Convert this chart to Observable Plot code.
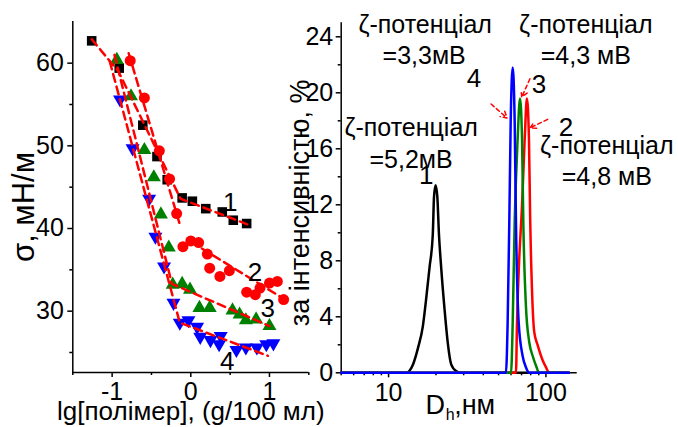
<!DOCTYPE html>
<html><head><meta charset="utf-8">
<script src="https://cdn.jsdelivr.net/npm/d3@7"></script>
<script src="https://cdn.jsdelivr.net/npm/@observablehq/plot@0.6"></script>
<style>
html,body{margin:0;padding:0;background:#fff;}
#chart{position:relative;width:678px;height:427px;overflow:hidden;}
#left{position:absolute;left:0;top:0;width:330px;height:427px;}
#right{position:absolute;left:270px;top:0;width:408px;height:427px;}
</style></head><body>
<div id="chart"><div id="left"></div><div id="right"></div></div>
<script>
const FONT = '"Liberation Sans", Arial, sans-serif';

// ---- Left panel: surface tension vs lg[polymer] ----
const series1 = [[-1.26,62.7],[-0.91,59.4],[-0.61,52.5],[-0.43,48.7],[-0.30,45.9],[-0.11,43.7],[0.02,43.3],[0.19,42.4],[0.40,42.0],[0.54,41.0],[0.71,40.6]];
const series2 = [[-0.77,60.3],[-0.59,55.8],[-0.40,49.4],[-0.27,46.0],[-0.18,41.8],[-0.10,37.8],[0.0,38.5],[0.10,38.3],[0.21,36.9],[0.24,35.2],[0.37,34.2],[0.49,34.9],[0.71,32.3],[0.82,32.0],[0.88,32.8],[1.0,33.4],[1.10,33.6],[1.18,31.4]];
const series3 = [[-0.94,60.4],[-0.76,56.0],[-0.59,49.5],[-0.47,46.2],[-0.38,41.7],[-0.28,37.7],[-0.23,33.2],[-0.11,33.3],[-0.01,32.6],[0.11,30.4],[0.24,30.4],[0.53,30.1],[0.62,29.6],[0.70,28.9],[0.83,29.0],[1.0,28.2]];
const series4 = [[-0.90,55.6],[-0.74,49.7],[-0.53,43.6],[-0.45,39.0],[-0.34,35.4],[-0.22,31.0],[-0.14,28.6],[-0.03,28.9],[0.08,28.1],[0.12,26.9],[0.25,26.5],[0.36,26.0],[0.38,27.0],[0.58,25.3],[0.70,25.6],[0.84,25.6],[0.96,26.0],[1.05,26.1]];
// dashed fit segments
const fit1 = [[-1.26,62.9],[-0.92,59.0],[-0.13,43.6],[0.72,40.5]];
const fit2a = [[-0.79,61.2],[-0.13,40.2]];
const fit2b = [[0.0,38.4],[1.18,31.5]];
const fit3 = [[-0.97,61.0],[-0.24,33.3],[1.0,28.2]];
const fit4 = [[-1.03,60.2],[-0.14,28.6],[0.98,24.6]];
const leftXDomain = [-1.5, 1.5];
const leftYDomain = [22.58, 65.04];
const leftXTicks = [-1, 0, 1];
const leftXMinor = [-1.5, -0.5, 0.5, 1.5];
const leftYTicks = [30, 40, 50, 60];
const leftYMinor = [25, 35, 45, 55];
const leftXLabel = "lg[полімер], (g/100 мл)";
const leftYLabel = "σ, мН/м";
const seriesNames = ["1", "2", "3", "4"];

// ---- Right panel: size distribution ----
const curve1 = [[5,0],[12.9,0],[14.3,0.6],[15.4,1.8],[16.5,3.3],[17.3,5.2],[18.2,7.5],[19.1,9.9],[19.45,12.6],[19.9,13.4],[20.4,12.6],[20.9,9.9],[21.6,7.5],[22.7,4.5],[23.8,2.1],[25.0,0.6],[27.0,0.1],[29,0],[140,0]];
const curve2 = [[5,0],[64.5,0],[65.5,3.6],[67.1,7.2],[70.5,12.0],[73.3,16.7],[75.7,19.6],[78.0,16.7],[79.4,11.0],[81.5,6.0],[84.3,2.9],[88.5,2.0],[95.3,0.9],[100,0.4],[105,0],[140,0]];
const curve3 = [[5,0],[60,0],[61.5,3.6],[63.3,10.8],[66.1,16.7],[68.4,19.6],[70.5,16.7],[71.8,10.8],[74.6,4.8],[78.3,2.2],[82.4,1.2],[86.5,0.5],[90.6,0],[140,0]];
const curve4 = [[5,0],[55.7,0],[57.1,3.6],[58.5,10.8],[59.7,17.9],[61.5,21.8],[63.3,17.9],[64.5,10.8],[67.1,3.6],[71.1,1.2],[74.6,0.4],[78.3,0],[140,0]];
const rightXDomain = [5, 158];
const rightYDomain = [0, 25];
const rightXTicks = [10, 100];
const rightXMinor = [5,6,7,8,9,20,30,40,50,60,70,80,90];
const rightYTicks = [0, 4, 8, 12, 16, 20, 24];
const rightYMinor = [2, 6, 10, 14, 18, 22];
const rightYLabel = "за інтенсивністю, %";
const zetaTitle = "ζ-потенціал";
const zetaValues = ["=3,3мВ", "=4,3 мВ", "=5,2мВ", "=4,8 мВ"];
const curveNames = ["1", "2", "3", "4"];

const pts = (arr, extra = {}) => arr.map(([x, y]) => ({x, y, ...extra}));
const styleBase = {background: "transparent", fontFamily: FONT, fontSize: "24px", color: "black", overflow: "visible"};

const fits = [
  ...pts(fit1, {s: "a"}), ...pts(fit2a, {s: "b"}), ...pts(fit2b, {s: "c"}),
  ...pts(fit3, {s: "d"}), ...pts(fit4, {s: "e"})
];

const left = Plot.plot({
  width: 330, height: 427,
  marginLeft: 72.3, marginRight: 21.7, marginTop: 21, marginBottom: 55,
  x: {domain: leftXDomain},
  y: {domain: leftYDomain},
  style: styleBase,
  marks: [
    Plot.axisY({ticks: leftYTicks, tickSize: 5, tickPadding: 4, fontSize: 25, label: null, strokeWidth: 1.5}),
    Plot.axisY({ticks: leftYMinor, tickSize: 3, tickFormat: () => "", label: null, strokeWidth: 1.5}),
    Plot.axisX({ticks: leftXTicks, tickSize: 5, tickPadding: 5, fontSize: 25, tickFormat: d => String(d), label: null, strokeWidth: 1.5}),
    Plot.axisX({ticks: leftXMinor, tickSize: 3, tickFormat: () => "", label: null, strokeWidth: 1.5}),
    Plot.ruleX([leftXDomain[0]], {strokeWidth: 1.5}),
    Plot.ruleY([leftYDomain[0]], {strokeWidth: 1.5}),
    Plot.dot(pts(series1), {x: "x", y: "y", symbol: "square", fill: "black", r: 5.4}),
    Plot.dot(pts(series2), {x: "x", y: "y", symbol: "circle", fill: "#ff0000", r: 5.5}),
    Plot.dot(pts(series3), {x: "x", y: "y", symbol: "triangle", fill: "#008000", r: 5.2}),
    Plot.dot(pts(series4), {x: "x", y: "y", symbol: "triangle", fill: "#0000ff", r: 5.2, rotate: 180}),
    Plot.line(fits, {x: "x", y: "y", z: "s", stroke: "#ff0000", strokeWidth: 2.5, strokeDasharray: "8,5"}),
    Plot.text([seriesNames[0]], {x: 0.50, y: 42.06, text: d => d, fontSize: 26, lineAnchor: "bottom"}),
    Plot.text([seriesNames[1]], {x: 0.816, y: 33.7, text: d => d, fontSize: 26, lineAnchor: "bottom"}),
    Plot.text([seriesNames[2]], {x: 0.977, y: 29.24, text: d => d, fontSize: 26, lineAnchor: "bottom"}),
    Plot.text([seriesNames[3]], {x: 0.464, y: 22.83, text: d => d, fontSize: 26, lineAnchor: "bottom"}),
    Plot.text([leftXLabel], {frameAnchor: "bottom", text: d => d, lineAnchor: "bottom", dy: 47, fontSize: 26}),
    Plot.text([leftYLabel], {frameAnchor: "left", text: d => d, rotate: -90, dx: -49, dy: 10, fontSize: 31, textAnchor: "middle", lineAnchor: "middle"})
  ]
});
document.getElementById("left").appendChild(left);

const right = Plot.plot({
  width: 408, height: 427,
  marginLeft: 70.7, marginRight: 101.3, marginTop: 22.3, marginBottom: 54.7,
  x: {type: "log", domain: rightXDomain},
  y: {domain: rightYDomain},
  style: styleBase,
  marks: [
    Plot.axisY({ticks: rightYTicks, tickSize: 5, tickPadding: 3, fontSize: 25, label: null, strokeWidth: 1.5}),
    Plot.axisY({ticks: rightYMinor, tickSize: 3, tickFormat: () => "", label: null, strokeWidth: 1.5}),
    Plot.axisX({ticks: rightXTicks, tickSize: 5, tickPadding: 5, fontSize: 25, tickFormat: d => String(d), label: null, strokeWidth: 1.5}),
    Plot.axisX({ticks: rightXMinor, tickSize: 3, tickFormat: () => "", label: null, strokeWidth: 1.5}),
    Plot.ruleX([rightXDomain[0]], {strokeWidth: 1.5}),
    Plot.ruleY([rightYDomain[0]], {strokeWidth: 1.5}),
    Plot.line(pts(curve1), {x: "x", y: "y", stroke: "black", strokeWidth: 2.5, curve: "monotone-x"}),
    Plot.line(pts(curve2), {x: "x", y: "y", stroke: "#ff0000", strokeWidth: 2.5, curve: "monotone-x"}),
    Plot.line(pts(curve3), {x: "x", y: "y", stroke: "#008000", strokeWidth: 2.5, curve: "monotone-x"}),
    Plot.line(pts(curve4), {x: "x", y: "y", stroke: "#0000ff", strokeWidth: 2.5, curve: "monotone-x"}),
    Plot.arrow([{x1: 44.8, y1: 19.2, x2: 56.6, y2: 18.2}, {x1: 79.1, y1: 21.0, x2: 70.2, y2: 19.7}, {x1: 102.6, y1: 18.1, x2: 79.4, y2: 17.5}],
      {x1: "x1", y1: "y1", x2: "x2", y2: "y2", stroke: "#ff0000", strokeWidth: 1.5, strokeDasharray: "4,3", headLength: 8}),
    Plot.text([zetaTitle], {x: 17.09, y: 24.24, text: d => d, fontSize: 25, lineAnchor: "bottom"}),
    Plot.text([zetaValues[0]], {x: 16.84, y: 22.09, text: d => d, fontSize: 25, lineAnchor: "bottom"}),
    Plot.text([zetaTitle], {x: 179.3, y: 24.24, text: d => d, fontSize: 25, lineAnchor: "bottom"}),
    Plot.text([zetaValues[1]], {x: 179.3, y: 22.09, text: d => d, fontSize: 25, lineAnchor: "bottom"}),
    Plot.text([zetaTitle], {x: 13.91, y: 16.95, text: d => d, fontSize: 25, lineAnchor: "bottom"}),
    Plot.text([zetaValues[2]], {x: 13.91, y: 14.66, text: d => d, fontSize: 25, lineAnchor: "bottom"}),
    Plot.text([zetaTitle], {x: 243.7, y: 15.66, text: d => d, fontSize: 25, lineAnchor: "bottom"}),
    Plot.text([zetaValues[3]], {x: 243.7, y: 13.38, text: d => d, fontSize: 25, lineAnchor: "bottom"}),
    Plot.text([curveNames[0]], {x: 17.34, y: 13.52, text: d => d, fontSize: 26, lineAnchor: "bottom"}),
    Plot.text([curveNames[1]], {x: 133.9, y: 16.95, text: d => d, fontSize: 26, lineAnchor: "bottom"}),
    Plot.text([curveNames[2]], {x: 90.3, y: 19.97, text: d => d, fontSize: 26, lineAnchor: "bottom"}),
    Plot.text([curveNames[3]], {x: 34.9, y: 20.38, text: d => d, fontSize: 26, lineAnchor: "bottom"}),
    Plot.text(["D"], {frameAnchor: "bottom-left", text: d => d, textAnchor: "start", lineAnchor: "bottom", dx: 84.3, dy: 40.7, fontSize: 27}),
    Plot.text(["h"], {frameAnchor: "bottom-left", text: d => d, textAnchor: "start", lineAnchor: "bottom", dx: 104.5, dy: 47, fontSize: 16}),
    Plot.text([",нм"], {frameAnchor: "bottom-left", text: d => d, textAnchor: "start", lineAnchor: "bottom", dx: 113, dy: 40.7, fontSize: 27}),
    Plot.text([rightYLabel], {frameAnchor: "left", text: d => d, rotate: -90, dx: -40.7, dy: 5, fontSize: 27, textAnchor: "middle", lineAnchor: "middle"})
  ]
});
document.getElementById("right").appendChild(right);
</script>
</body></html>
